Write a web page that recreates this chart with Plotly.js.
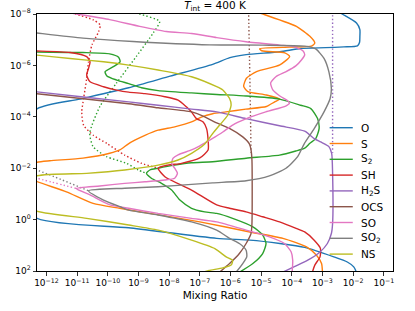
<!DOCTYPE html>
<html>
<head>
<meta charset="utf-8">
<script src="https://cdn.plot.ly/plotly-3.0.1.min.js"></script>
<style>html,body{margin:0;padding:0;background:#fff;}#chart{width:415px;height:311px;}</style>
</head>
<body>
<div id="chart"></div>
<script>
// Values, stored as [log10(mixing ratio), log10(pressure)] pairs
const species = ['O', 'S', 'S2', 'SH', 'H2S', 'OCS', 'SO', 'SO2', 'NS'];
const legendLabels = ['O', 'S', 'S<sub>2</sub>', 'SH', 'H<sub>2</sub>S', 'OCS', 'SO', 'SO<sub>2</sub>', 'NS'];
const colors = ['#1f77b4', '#ff7f0e', '#2ca02c', '#d62728', '#9467bd', '#8c564b', '#e377c2', '#7f7f7f', '#bcbd22'];

const O_pts = [[-2.5,-8.1],[-2.36,-8.0],[-1.89,-7.65],[-1.78,-7.39],[-1.78,-7.13],[-1.79,-6.90],[-1.86,-6.76],[-2.3,-6.72],[-2.9,-6.69],[-3.71,-6.66],[-4.39,-6.53],[-5.49,-6.42],[-6.02,-6.30],[-6.58,-6.04],[-7.97,-5.58],[-9.32,-5.13],[-10.91,-4.69],[-12.31,-4.31],[-14,-2.0],[-12.31,-0.05],[-9.32,0.32],[-6.45,0.73],[-5.37,0.80],[-4.39,0.93],[-3.58,1.08],[-2.63,1.45],[-2.19,1.65],[-1.98,1.84],[-1.92,1.97],[-1.90,2.05]];

const S_pts = [[-5.2,-8.1],[-4.88,-7.97],[-3.85,-7.52],[-3.41,-7.13],[-3.25,-6.87],[-3.36,-6.75],[-4.07,-6.71],[-5.05,-6.65],[-4.98,-6.57],[-4.23,-6.49],[-4.07,-6.35],[-4.39,-6.02],[-5.15,-5.76],[-5.48,-5.50],[-5.57,-5.18],[-5.43,-4.98],[-4.83,-4.85],[-4.39,-4.69],[-4.56,-4.58],[-4.83,-4.40],[-5.50,-4.30],[-6.15,-4.19],[-6.58,-4.12],[-6.95,-3.99],[-7.27,-3.80],[-7.82,-3.61],[-8.36,-3.48],[-8.79,-3.28],[-9.12,-3.09],[-9.34,-2.94],[-9.61,-2.71],[-9.94,-2.58],[-10.81,-2.39],[-11.89,-2.29],[-12.31,-2.23],[-13,-1.85],[-12.31,-1.48],[-11.35,-1.08],[-10.48,-0.63],[-9.61,-0.44],[-8.63,-0.24],[-7.0,0.09],[-5.37,0.48],[-4.29,0.73],[-3.52,1.06],[-3.20,1.38],[-3.03,1.71],[-3.0,2.05]];

const S2_pts = [[-12.6,-6.53],[-12.31,-6.52],[-10.81,-6.50],[-9.94,-6.45],[-9.65,-6.32],[-9.60,-6.14],[-9.82,-5.95],[-10.09,-5.75],[-10.03,-5.59],[-9.71,-5.43],[-9.32,-5.29],[-8.90,-5.13],[-8.36,-5.02],[-7.27,-4.93],[-6.45,-4.87],[-5.49,-4.81],[-4.40,-4.69],[-3.71,-4.45],[-3.38,-4.32],[-3.16,-3.93],[-3.11,-3.54],[-3.22,-3.15],[-3.41,-2.97],[-3.58,-2.78],[-3.87,-2.67],[-4.40,-2.51],[-5.49,-2.39],[-6.58,-2.25],[-7.27,-2.21],[-7.82,-2.12],[-8.36,-2.0],[-8.63,-1.93],[-8.74,-1.80],[-8.58,-1.61],[-8.25,-1.41],[-7.92,-1.15],[-7.65,-0.76],[-7.27,-0.44],[-6.84,-0.30],[-6.45,-0.24],[-5.93,-0.05],[-5.27,0.28],[-4.95,0.60],[-4.84,0.93],[-4.95,1.32],[-5.27,1.71],[-5.71,2.05]];
const S2_dot = [[-9.2,-8.1],[-8.96,-8.0],[-8.31,-7.71],[-8.52,-7.26],[-9.07,-6.35],[-9.72,-5.31],[-10.26,-4.40],[-10.59,-3.36],[-10.48,-2.84],[-10.04,-2.45],[-9.39,-2.19],[-9.01,-1.93],[-8.74,-1.80]];

const SH_pts = [[-12.6,-6.57],[-12.32,-6.56],[-11.23,-6.50],[-10.69,-6.34],[-10.58,-6.14],[-10.63,-5.88],[-10.69,-5.62],[-10.58,-5.36],[-10.14,-5.17],[-9.71,-5.04],[-9.32,-4.96],[-8.79,-4.90],[-8.14,-4.78],[-7.71,-4.65],[-7.44,-4.39],[-7.27,-4.19],[-7.11,-3.93],[-6.89,-3.80],[-6.78,-3.54],[-6.73,-3.10],[-6.73,-2.71],[-7.0,-2.40],[-7.60,-2.19],[-8.04,-2.12],[-8.36,-2.0],[-8.14,-1.67],[-7.27,-1.15],[-6.45,-0.57],[-6.03,-0.44],[-5.49,-0.30],[-4.95,-0.11],[-4.40,0.09],[-3.86,0.34],[-3.58,0.48],[-3.27,0.80],[-3.07,1.11],[-3.08,1.45],[-3.25,1.77],[-3.33,2.05]];
const SH_dot = [[-11.3,-8.1],[-11.05,-8.0],[-10.47,-7.77],[-10.25,-7.57],[-10.30,-7.31],[-10.52,-6.79],[-10.63,-6.14],[-10.69,-5.49],[-10.79,-4.71],[-10.85,-4.19],[-10.79,-3.67],[-10.47,-3.28],[-10.03,-2.96],[-9.45,-2.51],[-8.90,-2.19],[-8.36,-2.0]];

const H2S_pts = [[-12.6,-5.01],[-12.32,-4.97],[-9.32,-4.58],[-8.36,-4.45],[-7.27,-4.30],[-6.45,-4.19],[-5.49,-3.93],[-4.40,-3.65],[-3.58,-3.44],[-3.27,-3.15],[-3.06,-3.02],[-2.79,-2.84],[-2.70,-2.58],[-2.67,-1.80],[-2.67,0.15],[-2.71,0.54],[-2.84,0.93],[-3.09,1.27],[-3.48,1.58],[-3.90,1.82],[-4.30,2.05]];
const H2S_dot = [[-2.67,-8.1],[-2.67,-2.6]];

const OCS_pts = [[-12.6,-4.94],[-12.32,-4.90],[-9.32,-4.51],[-8.36,-4.35],[-7.27,-4.19],[-6.84,-4.0],[-6.45,-3.76],[-6.02,-3.54],[-5.60,-3.22],[-5.38,-2.94],[-5.33,-2.71],[-5.30,-2.32],[-5.30,0.15],[-5.33,0.54],[-5.49,0.93],[-5.71,1.32],[-6.03,1.71],[-6.36,2.05]];
const OCS_dot = [[-5.41,-8.1],[-5.36,-5.0],[-5.33,-2.6]];

const SO_pts = [[-12.0,-8.2],[-11.02,-8.0],[-9.94,-7.78],[-8.96,-7.52],[-8.09,-7.32],[-7.27,-7.24],[-6.45,-7.08],[-5.49,-6.92],[-4.40,-6.79],[-3.97,-6.74],[-3.64,-6.57],[-3.58,-6.41],[-3.68,-6.22],[-3.87,-5.98],[-4.20,-5.75],[-4.52,-5.56],[-4.69,-5.32],[-4.62,-5.05],[-4.39,-4.81],[-4.13,-4.62],[-4.08,-4.52],[-4.20,-4.42],[-4.85,-4.19],[-5.50,-3.92],[-5.93,-3.68],[-6.25,-3.41],[-6.61,-3.14],[-7.0,-2.87],[-7.27,-2.71],[-7.71,-2.52],[-7.87,-2.39],[-7.92,-2.19],[-7.82,-2.0],[-7.73,-1.80],[-7.82,-1.61],[-8.14,-1.54],[-8.79,-1.47],[-9.45,-1.41],[-10.26,-1.31],[-11.03,-1.21],[-10.58,-0.96],[-9.93,-0.57],[-9.32,-0.44],[-8.36,-0.24],[-7.27,-0.05],[-6.45,0.09],[-5.49,0.41],[-4.73,0.67],[-4.24,0.93],[-4.02,1.26],[-3.97,1.58],[-3.99,2.05]];
const SO_dot = [[-12.6,-1.7],[-12.31,-1.61],[-11.03,-1.21]];

const SO2_pts = [[-12.6,-7.30],[-12.31,-7.26],[-10.81,-7.06],[-9.18,-6.93],[-6.68,-6.80],[-4.95,-6.79],[-3.58,-6.75],[-3.22,-6.64],[-2.95,-6.27],[-2.79,-5.75],[-2.71,-5.10],[-2.75,-4.71],[-2.95,-4.19],[-3.27,-3.54],[-3.60,-2.94],[-3.81,-2.45],[-4.19,-2.0],[-4.73,-1.70],[-5.49,-1.51],[-6.58,-1.43],[-7.27,-1.37],[-8.36,-1.28],[-9.45,-1.22],[-10.63,-1.12],[-10.14,-0.76],[-9.60,-0.50],[-9.32,-0.37],[-8.36,-0.18],[-7.27,0.09],[-6.45,0.41],[-6.03,0.73],[-5.71,0.93],[-5.49,1.19],[-5.47,1.45],[-5.60,1.71],[-5.82,2.05]];
const SO2_dot = [[-12.6,-2.0],[-12.32,-1.93],[-10.63,-1.12]];

const NS_pts = [[-12.6,-6.44],[-12.32,-6.40],[-11.23,-6.27],[-10.14,-6.14],[-9.32,-6.01],[-8.36,-5.82],[-7.27,-5.56],[-6.45,-5.17],[-6.25,-5.04],[-6.03,-4.71],[-5.98,-4.45],[-6.09,-4.06],[-6.36,-3.67],[-6.58,-3.35],[-6.84,-2.94],[-7.27,-2.58],[-7.71,-2.32],[-8.36,-2.12],[-9.45,-1.93],[-10.69,-1.80],[-12.32,-1.70],[-13.5,-1.0],[-12.32,-0.33],[-10.69,-0.05],[-9.32,0.21],[-8.36,0.41],[-7.27,0.80],[-6.51,1.13],[-6.14,1.45],[-5.93,1.58],[-5.98,1.77],[-6.25,1.88],[-6.7,1.98],[-6.9,2.05]];

const solidSets = [O_pts, S_pts, S2_pts, SH_pts, H2S_pts, OCS_pts, SO_pts, SO2_pts, NS_pts];
const dottedSets = {S2: S2_dot, SH: SH_dot, H2S: H2S_dot, OCS: OCS_dot, SO: SO_dot, SO2: SO2_dot};

const xTickExps = [-12, -11, -10, -9, -8, -7, -6, -5, -4, -3, -2, -1];
const yTickExps = [-8, -6, -4, -2, 0, 2];

const toX = pts => pts.map(p => Math.pow(10, p[0]));
const toY = pts => pts.map(p => Math.pow(10, p[1]));
const sup = e => '10<sup>' + (e < 0 ? '\u2212' + (-e) : e) + '</sup>';

const traces = [];
species.forEach((sp, i) => {
  if (dottedSets[sp]) {
    traces.push({x: toX(dottedSets[sp]), y: toY(dottedSets[sp]), mode: 'lines', showlegend: false, hoverinfo: 'skip',
      line: {color: colors[i], width: 1.4, dash: '1.4px,2.3px', shape: 'spline', smoothing: 0.6}});
  }
});
species.forEach((sp, i) => {
  traces.push({x: toX(solidSets[i]), y: toY(solidSets[i]), mode: 'lines', name: sp, showlegend: false,
    line: {color: colors[i], width: 1.4, shape: 'spline', smoothing: 0.6}});
});

// hand-drawn legend (matplotlib style, no frame)
const legTop = 127.7, legStep = 15.8, plotTop = 14, plotH = 257;
const shapes = [], annotations = [];
species.forEach((sp, i) => {
  const yp = 1 - (legTop + i * legStep - plotTop) / plotH;
  shapes.push({type: 'line', xref: 'paper', yref: 'paper', x0: 0.822, x1: 0.887, y0: yp, y1: yp,
    line: {color: colors[i], width: 1.4}});
  annotations.push({xref: 'paper', yref: 'paper', x: 0.905, y: yp, xanchor: 'left', yanchor: 'middle',
    showarrow: false, text: legendLabels[i], font: {family: 'DejaVu Sans', size: 10.5, color: '#000'}});
});

const axisCommon = {
  type: 'log', showgrid: false, zeroline: false, showline: true, linecolor: '#000', linewidth: 1,
  mirror: true, ticks: 'outside', ticklen: 3.5, tickwidth: 0.8, tickcolor: '#000',
  tickfont: {family: 'DejaVu Sans', size: 9, color: '#000'}
};

const layout = {
  width: 415, height: 311,
  margin: {l: 37, r: 22, t: 14, b: 40},
  paper_bgcolor: '#fff', plot_bgcolor: '#fff',
  showlegend: false,
  title: {text: '<i>T</i><sub>int</sub> = 400 K', font: {family: 'DejaVu Sans', size: 10.5, color: '#000'},
    x: 0.5, xref: 'paper', y: 0.982, yref: 'container', yanchor: 'middle'},
  xaxis: Object.assign({}, axisCommon, {
    range: [-12.31, -0.70],
    tickvals: xTickExps.map(e => Math.pow(10, e)), ticktext: xTickExps.map(sup),
    title: {text: 'Mixing Ratio', font: {family: 'DejaVu Sans', size: 10.5, color: '#000'}, standoff: 4}
  }),
  yaxis: Object.assign({}, axisCommon, {
    range: [2, -8],
    tickvals: yTickExps.map(e => Math.pow(10, e)), ticktext: yTickExps.map(sup)
  }),
  shapes: shapes,
  annotations: annotations
};

Plotly.newPlot('chart', traces, layout, {staticPlot: true, displayModeBar: false});
</script>
</body>
</html>
